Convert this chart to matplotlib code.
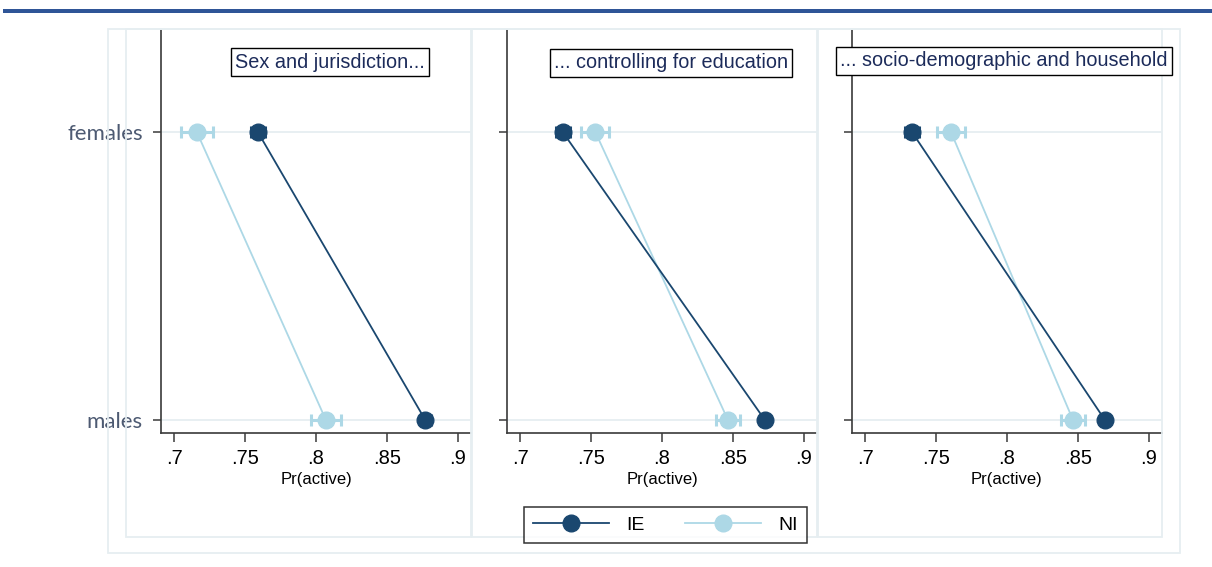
import matplotlib
matplotlib.use("Agg")
import matplotlib.pyplot as plt
from matplotlib.lines import Line2D
from matplotlib.patches import Rectangle

# --- Donnees ---
panels = ["Sex and jurisdiction...", "... controlling for education",
          "... socio-demographic and household"]
groups = ["males", "females"]
ie_vals = [[0.877, 0.759], [0.8725, 0.730], [0.869, 0.733]]
ni_vals = [[0.807, 0.716], [0.8465, 0.753], [0.8465, 0.7605]]
ie_err = [[0.004, 0.005], [0.003, 0.005], [0.003, 0.005]]
ni_err = [[0.0105, 0.0112], [0.0088, 0.0098], [0.0085, 0.0098]]
xticks = [0.7, 0.75, 0.8, 0.85, 0.9]
xticklabels = [".7", ".75", ".8", ".85", ".9"]

W, H = 1212, 567
IE_COL = "#1a476f"
NI_COL = "#add8e6"
LIGHT = "#e6eef1"
TXT_NAVY = "#1c2b5a"

plt.rcParams["font.family"] = ["Liberation Sans", "DejaVu Sans"]

fig = plt.figure(figsize=(W / 100, H / 100), dpi=100)


def fx(px):
    return px / W


def fy(py):
    return 1 - py / H


# bandeau bleu en haut
fig.add_artist(Rectangle((fx(3), fy(13)), fx(1209), 4 / H, transform=fig.transFigure,
                         color="#2f5597", lw=0))

# cadres clairs (graph region)
def light_box(x0, y0, x1, y1):
    fig.add_artist(Rectangle((fx(x0), fy(y1)), (x1 - x0) / W, (y1 - y0) / H,
                             transform=fig.transFigure, fill=False,
                             edgecolor=LIGHT, lw=1.3))

light_box(108, 29, 1180, 553)
for x0, x1 in [(126, 471), (472, 817), (818, 1162)]:
    light_box(x0, 29, x1, 537)

lefts = [161, 507, 852]
titles_pos = [(330, 62), (671, 63), (1004, 61)]
top, bottom, width = 30, 433, 310
ypos = [0, 1]

for i, left in enumerate(lefts):
    ax = fig.add_axes([fx(left), fy(bottom), width / W, (bottom - top) / H])
    ax.set_xlim(0.6908, 0.9092)
    ax.set_ylim(-0.045, 1.354)
    for y in ypos:
        ax.axhline(y, color=LIGHT, lw=1.3, zorder=0)

    ax.errorbar(ni_vals[i], ypos, xerr=ni_err[i], color=NI_COL, lw=1.3,
                marker="o", markersize=12, elinewidth=2.2, capsize=4.5,
                capthick=2.2, zorder=3)
    ax.errorbar(ie_vals[i], ypos, xerr=ie_err[i], color=IE_COL, lw=1.3,
                marker="o", markersize=12, elinewidth=2.2, capsize=4.5,
                capthick=2.2, zorder=4)

    for s in ["top", "right"]:
        ax.spines[s].set_visible(False)
    for s in ["left", "bottom"]:
        ax.spines[s].set_color("#3a3a3a")
        ax.spines[s].set_linewidth(1.2)

    ax.set_xticks(xticks)
    ax.set_xticklabels(xticklabels, fontsize=14.5)
    ax.tick_params(axis="x", length=6.5, width=1.1, color="#3a3a3a", pad=5)
    ax.set_yticks(ypos)
    if i == 0:
        ax.set_yticklabels(groups, fontsize=16, color="#4d5a72", family="Lato")
    else:
        ax.set_yticklabels([])
    ax.tick_params(axis="y", length=6, width=1.1, color="#3a3a3a", pad=7)
    ax.set_xlabel("Pr(active)", fontsize=12, labelpad=3)
    ax.patch.set_alpha(0)

    cx, cy = titles_pos[i]
    fig.text(fx(cx), fy(cy), panels[i], ha="center", va="center", fontsize=14.3,
             color=TXT_NAVY,
             bbox=dict(boxstyle="square,pad=0.22", fc="white", ec="black", lw=1))

handles = [
    Line2D([], [], color=IE_COL, lw=1.3, marker="o", markersize=12),
    Line2D([], [], color=NI_COL, lw=1.3, marker="o", markersize=12),
]
fig.legend(handles, ["IE", "NI"], loc="center", ncol=2,
           bbox_to_anchor=(fx(665.5), fy(525)), fontsize=14, frameon=True,
           fancybox=False, edgecolor="black", handlelength=3.9,
           columnspacing=2.1, handletextpad=0.9, borderpad=0.45)
fig.legends[0].get_frame().set_linewidth(1.1)

fig.savefig("out.png", dpi=100)
